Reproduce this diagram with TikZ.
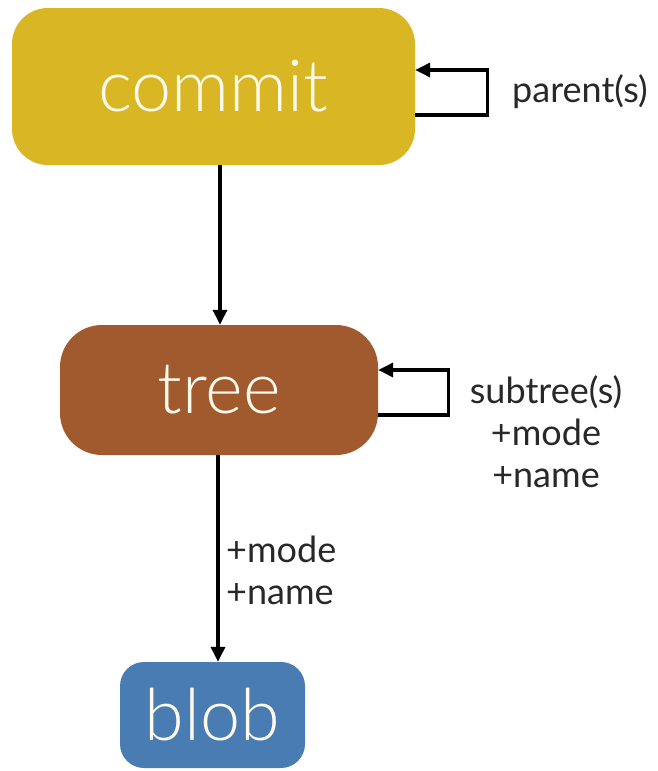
\documentclass[tikz,border=0pt]{standalone}
\usepackage{fontspec}
\setmainfont{TeX Gyre Heros}
\newfontfamily\boxfont{Lato}[UprightFont={* Light}]
\newfontfamily\lblfont{Lato}
\usetikzlibrary{calc,arrows.meta}
\definecolor{commitc}{RGB}{217,183,36}
\definecolor{treec}{RGB}{160,90,46}
\definecolor{blobc}{RGB}{72,124,178}
\definecolor{boxtext}{RGB}{255,250,235}
\definecolor{lbl}{RGB}{40,40,40}
\tikzset{
  objbox/.style={rectangle,draw=none,text=boxtext,inner sep=0pt,font=\boxfont\fontsize{72}{74}\selectfont},
  arr/.style={line width=3.4pt,draw=black,-{Triangle[length=15pt,width=14pt]}},
  lbltext/.style={text=lbl,font=\lblfont\fontsize{36}{42}\selectfont,inner sep=0pt}
}
\begin{document}
\begin{tikzpicture}[x=1pt,y=-1pt]
\useasboundingbox (0,0) rectangle (658,771);
\node[objbox,fill=commitc,rounded corners=36pt,minimum width=403pt,minimum height=157pt] (commit) at (213.5,86.5) {commit};
\node[objbox,fill=treec,rounded corners=42pt,minimum width=318pt,minimum height=130pt] (tree) at (219,390) {tree};
\node[objbox,fill=blobc,rounded corners=24pt,minimum width=185pt,minimum height=106pt] (blob) at (212.5,715) {blob};
% commit -> tree
\draw[arr] (commit.south -| 220,0) -- (tree.north -| 220,0);
% tree -> blob
\draw[arr] (tree.south -| 218,0) -- (blob.north -| 218,0);
% self loops
\draw[arr] ($(commit.east)+(0,28.5)$) -- ++(72,0) -- ++(0,-45) -- ($(commit.east)+(0,-16.5)$);
\draw[arr] ($(tree.east)+(0,25)$) -- ++(70,0) -- ++(0,-45) -- ($(tree.east)+(0,-20)$);
% labels
\node[lbltext] (plabel) at (580,92) {parent(s)};
\node[lbltext,align=center] (slabel) at (546,432) {subtree(s)\\+mode\\+name};
\node[lbltext,align=left,anchor=west] (elabel) at (226,570) {+mode\\+name};
\end{tikzpicture}
\end{document}
